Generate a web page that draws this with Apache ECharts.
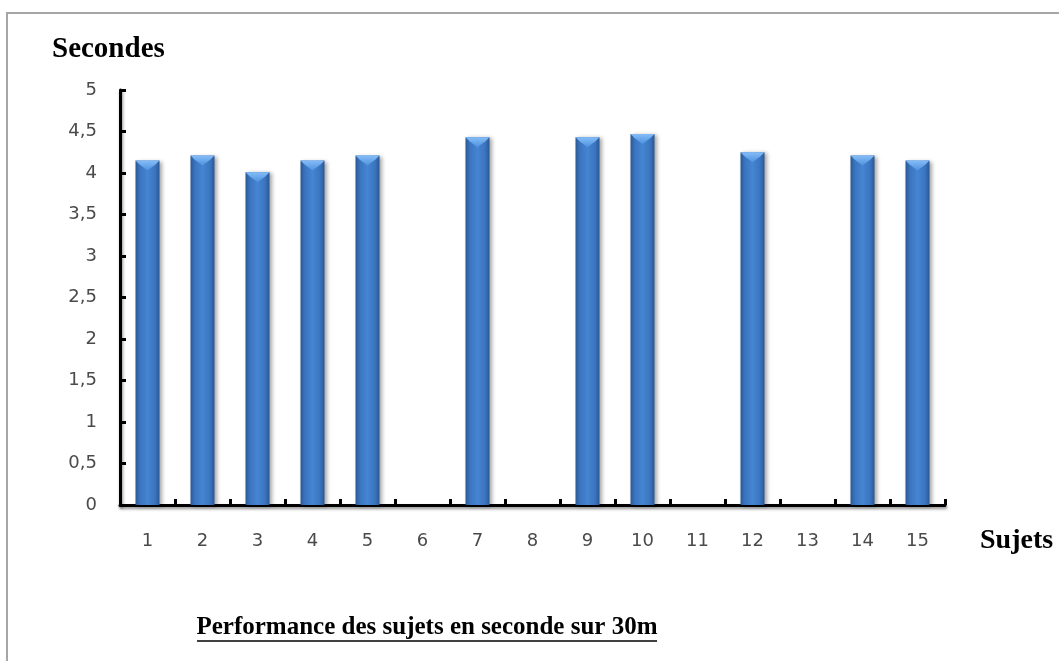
<!DOCTYPE html>
<html>
<head>
<meta charset="utf-8">
<script src="https://cdn.jsdelivr.net/npm/echarts@6/dist/echarts.min.js"></script>
<style>
  html, body { margin: 0; padding: 0; background: #ffffff; }
  #chart { width: 1059px; height: 661px; }
</style>
</head>
<body>
<div id="chart"></div>
<script>
// Subjects 1..15 and their 30 m times in seconds (blank = no time recorded)
const sujets = ['1', '2', '3', '4', '5', '6', '7', '8', '9', '10', '11', '12', '13', '14', '15'];
const secondes = [4.15, 4.21, 4.01, 4.15, 4.21, null, 4.43, null, 4.43, 4.47, null, 4.25, null, 4.21, 4.15];

const yAxisName = 'Secondes';
const xAxisName = 'Sujets';
const chartTitle = 'Performance des sujets en seconde sur 30m';

const chart = echarts.init(document.getElementById('chart'), null, { renderer: 'canvas' });

const axisLineStyle = {
  color: '#000000',
  width: 3,
  shadowColor: 'rgba(0,0,0,0.45)',
  shadowBlur: 3,
  shadowOffsetX: 1,
  shadowOffsetY: 2
};

const barGradient = new echarts.graphic.LinearGradient(0, 0, 1, 0, [
  { offset: 0, color: '#2b5792' },
  { offset: 0.18, color: '#3a74bf' },
  { offset: 0.5, color: '#4585d2' },
  { offset: 0.82, color: '#3a74bf' },
  { offset: 1, color: '#2b5792' }
]);

const capGradient = new echarts.graphic.LinearGradient(0, 0, 0, 1, [
  { offset: 0, color: '#84bcf7' },
  { offset: 1, color: '#4f92df' }
]);

const option = {
  backgroundColor: '#ffffff',
  animation: false,
  grid: { left: 120, right: 114, top: 90, bottom: 156, containLabel: false },
  xAxis: {
    type: 'category',
    data: sujets,
    boundaryGap: true,
    axisLine: { show: true, lineStyle: axisLineStyle },
    axisTick: { show: true, inside: true, length: 6, lineStyle: { color: '#000', width: 3 } },
    axisLabel: {
      margin: 27,
      color: '#4a4a4a',
      fontFamily: 'DejaVu Sans',
      fontSize: 18,
      interval: 0
    },
    splitLine: { show: false }
  },
  yAxis: {
    type: 'value',
    min: 0,
    max: 5,
    interval: 0.5,
    axisLine: { show: true, lineStyle: axisLineStyle },
    axisTick: { show: true, inside: true, length: 6, lineStyle: { color: '#000', width: 3 } },
    axisLabel: {
      margin: 23,
      color: '#4a4a4a',
      fontFamily: 'DejaVu Sans',
      fontSize: 18,
      formatter: v => String(v).replace('.', ',')
    },
    splitLine: { show: false }
  },
  series: [
    {
      type: 'bar',
      data: secondes,
      barWidth: 24,
      itemStyle: {
        color: barGradient,
        shadowColor: 'rgba(0,0,0,0.35)',
        shadowBlur: 4,
        shadowOffsetX: 2,
        shadowOffsetY: 1
      },
      z: 2
    },
    {
      // bevelled top of each bar
      type: 'pictorialBar',
      data: secondes,
      symbol: 'path://M0,0 L24,0 L20,4 L12,10 L4,4 Z',
      symbolSize: [24, 10],
      symbolPosition: 'end',
      itemStyle: { color: capGradient },
      z: 3,
      silent: true
    }
  ],
  graphic: [
    {
      type: 'rect',
      shape: { x: 7, y: 13, width: 1200, height: 800 },
      style: { fill: 'none', stroke: '#a6a6a6', lineWidth: 2 },
      silent: true
    },
    {
      type: 'text',
      x: 52,
      y: 50,
      style: {
        text: yAxisName,
        font: 'bold 29px "Liberation Serif"',
        fill: '#000000',
        textAlign: 'left',
        textVerticalAlign: 'middle'
      }
    },
    {
      type: 'text',
      x: 980,
      y: 541,
      style: {
        text: xAxisName,
        font: 'bold 28px "Liberation Serif"',
        fill: '#000000',
        textAlign: 'left',
        textVerticalAlign: 'middle'
      }
    },
    {
      type: 'text',
      x: 427,
      y: 628,
      style: {
        text: chartTitle,
        font: 'bold 25px "Liberation Serif"',
        fill: '#000000',
        textAlign: 'center',
        textVerticalAlign: 'middle'
      }
    },
    {
      type: 'line',
      shape: { x1: 197, y1: 641, x2: 657, y2: 641 },
      style: { stroke: '#000000', lineWidth: 1.5 }
    }
  ]
};

chart.setOption(option);
</script>
</body>
</html>
